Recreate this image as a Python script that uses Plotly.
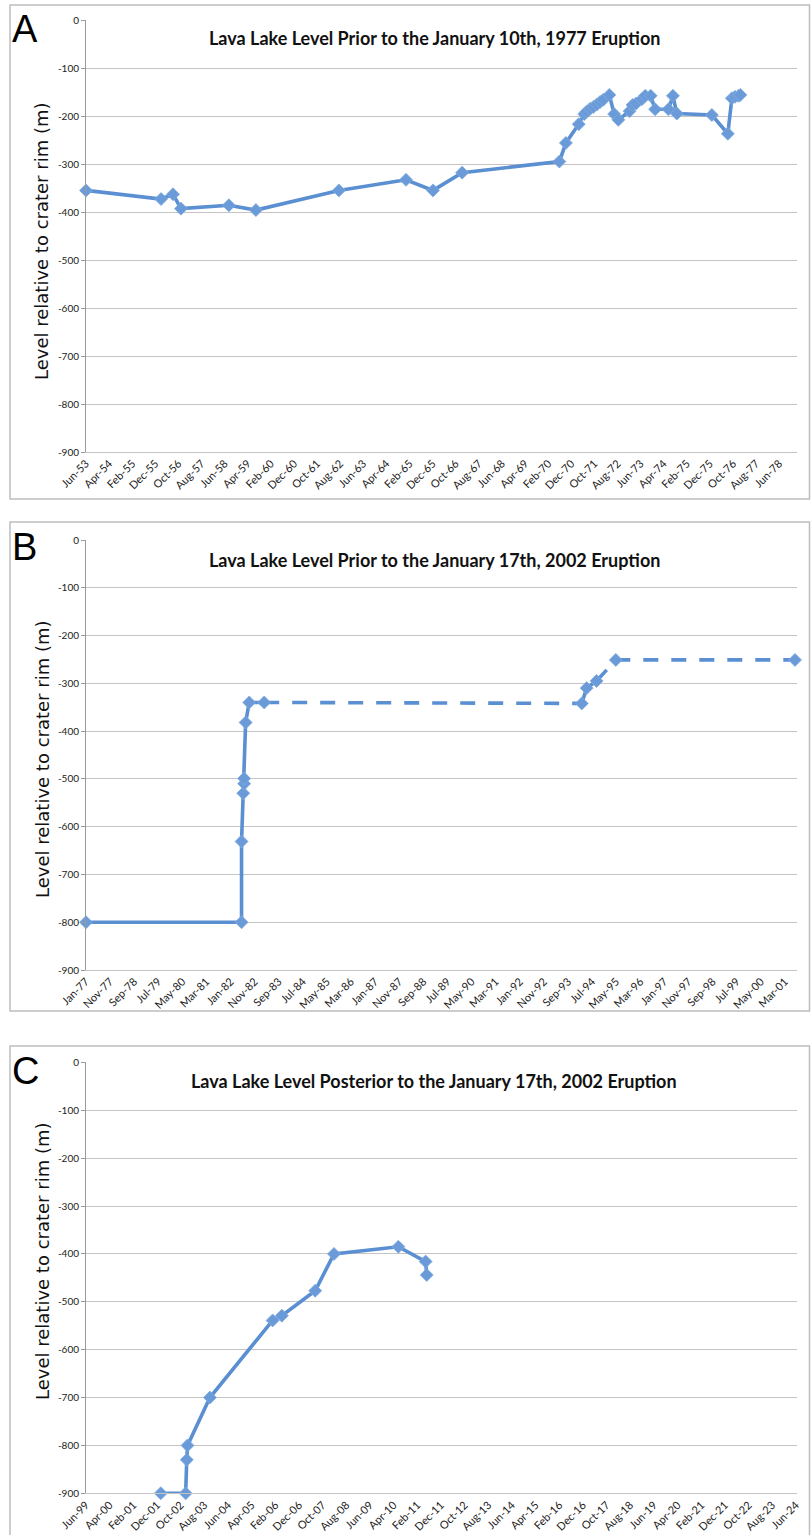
import plotly.graph_objects as go

W, H = 811, 1535

# ---------------- data ----------------
a_dates = ["1953-06-01", "1956-02-15", "1956-07-21", "1956-11-03", "1958-07-27", "1959-07-18",
           "1962-07-15", "1964-12-15", "1965-12-06", "1966-12-24", "1970-06-27", "1970-09-21",
           "1971-03-09", "1971-05-21", "1971-06-21", "1971-08-06", "1971-09-18", "1971-11-03",
           "1971-12-15", "1972-01-27", "1972-04-15", "1972-06-18", "1972-08-12", "1973-01-06",
           "1973-02-15", "1973-04-03", "1973-06-18", "1973-08-01", "1973-10-12", "1973-12-09",
           "1974-06-03", "1974-08-01", "1974-09-21", "1975-12-27", "1976-07-24", "1976-09-15",
           "1976-10-27", "1976-12-12", "1977-01-05"]
a_values = [-355, -373, -363, -393, -386, -396,
            -355, -333, -355, -318, -295, -256,
            -217, -196, -191, -185, -181, -176,
            -171, -166, -156, -196, -208, -190,
            -177, -174, -165, -158, -158, -186,
            -186, -158, -195, -198, -237, -163,
            -160, -158, -156]

b_dates = ["1977-01-01", "1982-05-19", "1982-05-19", "1982-06-10", "1982-06-21", "1982-06-21",
           "1982-07-10", "1982-08-24", "1983-03-01", "1994-02-21", "1994-04-24", "1994-08-27",
           "1995-04-27", "2001-07-07"]
b_values = [-800, -800, -631, -530, -510, -499, -382, -340, -340, -342, -310, -295, -251, -251]

c_dates = ["2002-01-18", "2002-12-04", "2002-12-18", "2002-12-28", "2003-10-12", "2005-12-27",
           "2006-04-24", "2007-06-27", "2008-02-24", "2010-06-01", "2011-05-18", "2011-06-01"]
c_values = [-900, -900, -830, -800, -700, -539, -529, -477, -400, -385, -416, -444]

titles = ["Lava Lake Level Prior to the January 10th, 1977 Eruption",
          "Lava Lake Level Prior to the January 17th, 2002 Eruption",
          "Lava Lake Level Posterior to the January 17th, 2002 Eruption"]
panel_letters = ["A", "B", "C"]
y_title = "Level relative to crater rim (m)"
y_tickvals = [0, -100, -200, -300, -400, -500, -600, -700, -800, -900]
y_ticktext = ["0", "-100", "-200", "-300", "-400", "-500", "-600", "-700", "-800", "-900"]

x_tick0 = ["1953-06-01", "1977-01-01", "1999-06-01"]
x_ranges = [["1953-06-01", "1979-01-21"], ["1977-01-01", "2001-08-01"], ["1999-06-01", "2024-06-15"]]

# ---------------- layout geometry (pixels) ----------------
plot_x = (86, 797)
plot_y = [(20, 452), (540, 970), (1062.4, 1493.3)]
boxes = [(5, 499), (522, 1011), (1046, 1545)]
title_y = [38, 560, 1081]
letter_y = [6, 524, 1048]
ytitle_y = [242, 760, 1262]

LINE = "#5a8fd2"
MARK = "#6a9bd8"


def xp(px):
    return px / W


def yp(py):
    return 1 - py / H


fig = go.Figure()

MARKER = dict(symbol="diamond", size=10, color=MARK, line=dict(color="#7fabe0", width=0.8))


def add_line(dates, vals, idx, dash="solid", mode="lines+markers"):
    sfx = "" if idx == 0 else str(idx + 1)
    fig.add_trace(go.Scatter(
        x=dates, y=vals, mode=mode,
        line=dict(color=LINE, width=3.6, dash=dash),
        marker=MARKER,
        xaxis="x" + sfx, yaxis="y" + sfx, cliponaxis=False, showlegend=False,
        hoverinfo="x+y"))


# panel A
add_line(a_dates, a_values, 0)
# panel B: solid / dashed segments
segs = [(0, 8, "solid"), (8, 9, "15px,13px"), (9, 11, "solid"), (11, 13, "15px,13px")]
for s, e, d in segs:
    add_line(b_dates[s:e + 1], b_values[s:e + 1], 1, dash=d, mode="lines")
fig.add_trace(go.Scatter(
    x=b_dates, y=b_values, mode="markers", marker=MARKER,
    xaxis="x2", yaxis="y2", cliponaxis=False, showlegend=False))
# panel C
add_line(c_dates, c_values, 2)

layout = dict(width=W, height=H, autosize=False,
              margin=dict(l=0, r=0, t=0, b=0, autoexpand=False),
              paper_bgcolor="white", plot_bgcolor="white",
              showlegend=False)

annotations = []
shapes = []
ytickfont = dict(family="Lato, Open Sans, sans-serif", size=10, color="#222222")
xtickfont = dict(family="Lato, Open Sans, sans-serif", size=11, color="#222222")

for i in range(3):
    sfx = "" if i == 0 else str(i + 1)
    top_id = str(i + 4)
    y0, y1 = plot_y[i]
    layout["xaxis" + sfx] = dict(
        domain=[xp(plot_x[0]), xp(plot_x[1])], anchor="y" + sfx,
        type="date", range=x_ranges[i], tick0=x_tick0[i], dtick="M10",
        tickformat="%b-%y", tickangle=-45, tickfont=xtickfont, automargin=False,
        showgrid=False, zeroline=False, showline=True, linecolor="#c4c4c4", linewidth=1,
        ticks="", fixedrange=True)
    layout["xaxis" + top_id] = dict(
        overlaying="x" + sfx, anchor="y" + sfx, side="top",
        type="date", range=x_ranges[i], tick0=x_tick0[i], dtick="M10",
        showticklabels=False, ticks="inside", ticklen=4, tickcolor="#9a9a9a", tickwidth=1,
        showgrid=False, zeroline=False, showline=True, linecolor="#9a9a9a", linewidth=1)
    layout["yaxis" + sfx] = dict(
        domain=[yp(y1), yp(y0)], anchor="x" + sfx, automargin=False,
        range=[-900, 0], tickvals=y_tickvals, ticktext=y_ticktext, tickfont=ytickfont,
        showgrid=True, gridcolor="#c4c4c4", gridwidth=1, zeroline=False,
        showline=True, linecolor="#9a9a9a", linewidth=1,
        ticks="outside", ticklen=4, tickcolor="#9a9a9a", fixedrange=True)

    shapes.append(dict(type="rect", xref="paper", yref="paper",
                       x0=xp(10), x1=xp(809.5), y0=yp(boxes[i][1]), y1=yp(boxes[i][0]),
                       line=dict(color="#bdbdbd", width=1.5), fillcolor="rgba(0,0,0,0)", layer="below"))
    annotations.append(dict(text="<b>" + titles[i] + "</b>", xref="paper", yref="paper",
                            x=xp(434), y=yp(title_y[i]), xanchor="center", yanchor="middle",
                            showarrow=False,
                            font=dict(family="Lato, Open Sans, sans-serif", size=18, color="#111111")))
    annotations.append(dict(text=panel_letters[i], xref="paper", yref="paper",
                            x=xp(10), y=yp(letter_y[i]), xanchor="left", yanchor="top",
                            showarrow=False,
                            font=dict(family="Liberation Sans, Arial, sans-serif", size=38, color="black")))
    annotations.append(dict(text=y_title, xref="paper", yref="paper",
                            x=xp(42), y=yp(ytitle_y[i]), xanchor="center", yanchor="middle",
                            textangle=-90, showarrow=False,
                            font=dict(family="DejaVu Sans, sans-serif", size=18, color="#111111")))

layout["annotations"] = annotations
layout["shapes"] = shapes
fig.update_layout(**layout)

fig.write_html("out.html",
               config={"displayModeBar": False},
               post_script="document.body.style.margin='0';document.body.style.padding='0';"
                           "document.documentElement.style.overflow='hidden';"
                           "document.body.style.overflow='hidden';")
